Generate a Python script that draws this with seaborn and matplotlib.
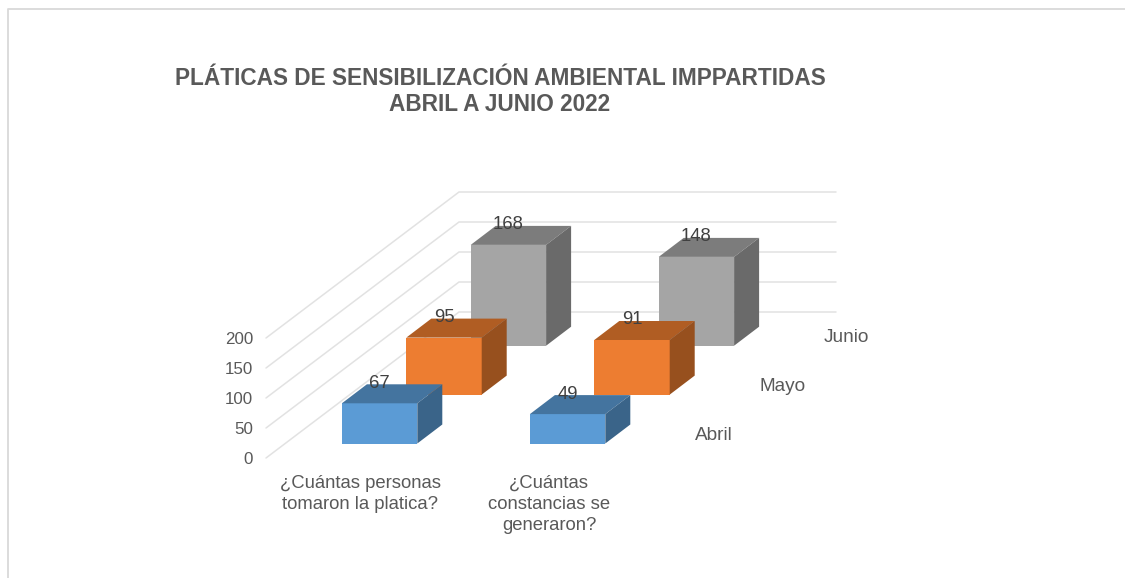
import matplotlib
matplotlib.use("Agg")
import matplotlib.pyplot as plt
from matplotlib.lines import Line2D
from matplotlib.patches import Polygon
import seaborn as sns

categories = ["¿Cuántas personas\ntomaron la platica?", "¿Cuántas\nconstancias se\ngeneraron?"]
series_names = ["Abril", "Mayo", "Junio"]
abril = [67, 49]
mayo = [95, 91]
junio = [168, 148]
value_ticks = [0, 50, 100, 150, 200]
title = "PLÁTICAS DE SENSIBILIZACIÓN AMBIENTAL IMPPARTIDAS\nABRIL A JUNIO 2022"

front_colors = ["#5B9BD5", "#ED7D31", "#A5A5A5"]
top_colors = ["#44749F", "#B05D23", "#7C7C7C"]
side_colors = ["#3A6489", "#97501E", "#6A6A6A"]

W, H = 1125, 578
sns.set_theme(style="white")
plt.rcParams["font.family"] = ["Liberation Sans", "DejaVu Sans"]
fig = plt.figure(figsize=(W / 100, H / 100), dpi=100, facecolor="white")

# Oblique geometry, in pixels
PX_PER_VALUE = 0.6
CAT_STEP = 188.0
BAR_W = 75.4 / CAT_STEP
FLOOR_X, FLOOR_Y = 266.0, 458.0      # front-left corner of the floor
WALL_DX, WALL_DY = 193.0, -146.0     # floor depth vector
WALL_RIGHT = 836.0
BAR_DX, BAR_DY = 25.0, -19.0         # depth of one bar
SERIES_DX, SERIES_DY = 64.4, -48.9   # step between series
FIRST_CENTER_X, FIRST_BASE_Y = 379.6, 443.5
GRID = "#E2E2E2"
TEXT = "#595959"
LABEL = "#404040"


def rect(left, top, width, height):
    return [left / W, 1 - (top + height) / H, width / W, height / H]


# Background: walls, frame and free labels in pixel coordinates
bg = fig.add_axes([0, 0, 1, 1])
bg.set_xlim(0, W)
bg.set_ylim(H, 0)
bg.axis("off")
for v in value_ticks:
    y0 = FLOOR_Y - v * PX_PER_VALUE
    bg.plot([FLOOR_X, FLOOR_X + WALL_DX, WALL_RIGHT],
            [y0, y0 + WALL_DY, y0 + WALL_DY], color=GRID, lw=1.1, solid_joinstyle="miter")

fig.add_artist(Line2D([8.0 / W, 8.0 / W, 1], [0, 1 - 9.0 / H, 1 - 9.0 / H],
                      color="#D9D9D9", lw=1.3, transform=fig.transFigure))

fig.text(500 / W, 1 - 91.5 / H, title, ha="center", va="center", fontsize=16.3,
         fontweight="bold", color=TEXT, linespacing=1.17)

# Value axis
value_ax = fig.add_axes(rect(FLOOR_X, FLOOR_Y - 200 * PX_PER_VALUE, 1, 200 * PX_PER_VALUE))
value_ax.patch.set_alpha(0)
value_ax.set_ylim(0, 200)
value_ax.set_yticks(value_ticks)
value_ax.set_xticks([])
value_ax.tick_params(axis="y", length=0, pad=9.4, labelsize=12.2, labelcolor=TEXT)
sns.despine(ax=value_ax, left=True, bottom=True)

# Category labels
label_x = [360.5, 549.0]
for x, cat in zip(label_x, categories):
    bg.text(x, 474.5, cat, ha="center", va="top", fontsize=13.35, color=TEXT, linespacing=1.34)

# Series: back to front, one transparent axes per depth slot
all_values = [abril, mayo, junio]
for i in [2, 1, 0]:
    vals = all_values[i]
    base_y = FIRST_BASE_Y + i * SERIES_DY
    center_x = FIRST_CENTER_X + i * SERIES_DX
    ax = fig.add_axes(rect(center_x - CAT_STEP / 2, base_y - 200 * PX_PER_VALUE,
                           2 * CAT_STEP, 200 * PX_PER_VALUE))
    ax.patch.set_alpha(0)
    sns.barplot(x=[0, 1], y=vals, ax=ax, color=front_colors[i], saturation=1,
                width=BAR_W, order=[0, 1], errorbar=None, zorder=3, linewidth=0)
    ax.set_xlim(-0.5, 1.5)
    ax.set_ylim(0, 200)
    ax.axis("off")
    ddx = BAR_DX / CAT_STEP
    ddy = -BAR_DY / PX_PER_VALUE
    for patch, val in zip(ax.patches, vals):
        x0 = patch.get_x()
        x1 = x0 + patch.get_width()
        h = patch.get_height()
        ax.add_patch(Polygon([(x0, h), (x1, h), (x1 + ddx, h + ddy), (x0 + ddx, h + ddy)],
                             closed=True, fc=top_colors[i], ec="none", clip_on=False, zorder=4))
        ax.add_patch(Polygon([(x1, 0), (x1, h), (x1 + ddx, h + ddy), (x1 + ddx, ddy)],
                             closed=True, fc=side_colors[i], ec="none", clip_on=False, zorder=4))
        ax.annotate(str(val), xy=((x0 + x1) / 2, h), xytext=(0, 14.4), textcoords="offset points",
                    ha="center", va="center", fontsize=13.3, color=LABEL,
                    annotation_clip=False, zorder=5)
    bg.text(695 + i * SERIES_DX, 435.5 + i * SERIES_DY, series_names[i],
            ha="left", va="center", fontsize=13.7, color=TEXT)

fig.savefig("out.png", dpi=100, facecolor="white")
